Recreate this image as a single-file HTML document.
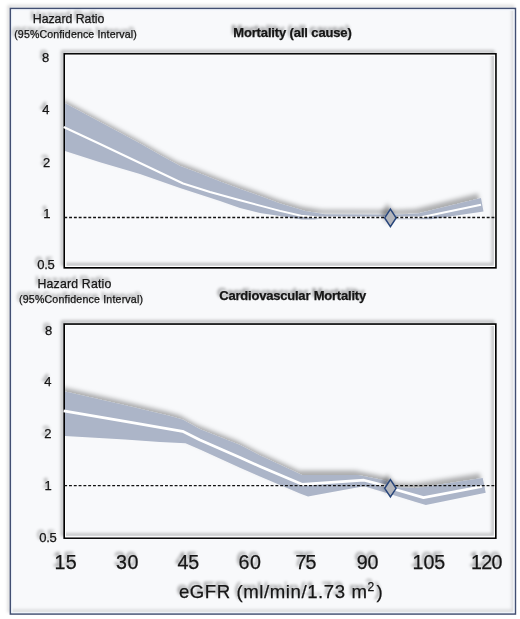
<!DOCTYPE html>
<html><head><meta charset="utf-8">
<style>
html,body{margin:0;padding:0;background:#ffffff;}
body{width:520px;height:619px;overflow:hidden;}
svg{display:block;}
text{font-family:"Liberation Sans",sans-serif;fill:#141414;stroke:#141414;stroke-width:0.25px;}
</style></head>
<body>
<svg width="520" height="619" viewBox="0 0 520 619">
<defs>
  <filter id="sh" x="-10%" y="-10%" width="120%" height="120%">
    <feDropShadow dx="-2.3" dy="-2.9" stdDeviation="1.4" flood-color="#000" flood-opacity="0.27"/>
  </filter>
  <filter id="bsh" x="-10%" y="-30%" width="120%" height="160%">
    <feDropShadow dx="-3" dy="-4.5" stdDeviation="2.3" flood-color="#000" flood-opacity="0.3"/>
  </filter>
  <filter id="dsh" x="-100%" y="-20%" width="300%" height="140%">
    <feDropShadow dx="-3" dy="-4.5" stdDeviation="2.3" flood-color="#000" flood-opacity="0.3"/>
  </filter>
  <filter id="tsh" x="-10%" y="-10%" width="120%" height="120%">
    <feDropShadow dx="-2" dy="-3" stdDeviation="1.8" flood-color="#000" flood-opacity="0.4"/>
  </filter>
  <filter id="fsh" x="-5%" y="-5%" width="110%" height="110%">
    <feDropShadow dx="-2" dy="-2.5" stdDeviation="1.6" flood-color="#000" flood-opacity="0.16"/>
  </filter>
  <clipPath id="clipb"><rect x="65.1" y="54.699999999999996" width="429.99999999999994" height="212.3"/><rect x="65.0" y="324.90000000000003" width="430.0" height="212.4"/></clipPath>
</defs>
<rect x="10.4" y="8.5" width="505.0" height="605.5" fill="#f8f9fb"/>
<g filter="url(#fsh)">
<rect x="10.4" y="8.5" width="505.0" height="605.5" fill="none" stroke="#435072" stroke-width="1.6"/>
<rect x="11.70" y="9.80" width="502.40" height="602.90" fill="none" stroke="#eef3fb" stroke-width="1.0"/>
</g>
<g filter="url(#sh)">
<rect x="64.3" y="53.9" width="431.59999999999997" height="213.9" fill="none" stroke="#000000" stroke-width="1.7"/>
<rect x="64.2" y="324.1" width="431.6" height="214.0" fill="none" stroke="#000000" stroke-width="1.7"/>
<rect x="65.60" y="55.20" width="429.00" height="211.30" fill="none" stroke="#ffffff" stroke-width="1.0"/>
<rect x="65.50" y="325.40" width="429.00" height="211.40" fill="none" stroke="#ffffff" stroke-width="1.0"/>
</g>
<g clip-path="url(#clipb)"><g filter="url(#bsh)">
<path d="M65,103.3 L100,122 L140,143.4 L160,155 L180,166 L200,173.5 L220,181.5 L240,189 L260,196 L280,203.5 L295,208 L305,211 L325,214.2 L385,214.5 L397,214.5 L418,213.5 L481,198 L483.5,211.5 L483.5,211.5 L431,219.2 L397,219.2 L385,218.2 L325,218.2 L314,219.5 L302,219.5 L280,216 L260,213 L240,208 L220,201 L180,188 L140,174 L100,162.3 L65,150.9 Z" fill="#acb5c8"/>
<path d="M65,391.4 L125,405.3 L170,416 L183,419.8 L200,429.3 L240,445 L260,455.5 L302,475 L358,475 L385,480.5 L397,487.3 L415,488 L424,487 L482.7,478 L485.7,492.7 L485.7,492.7 L425.8,505 L415,501.7 L385,492.6 L364,486.2 L320,494.3 L308,496.4 L300,493.5 L260,476.5 L240,467.7 L200,449.5 L185.5,443.3 L160,442 L125,439.4 L65,435.9 Z" fill="#acb5c8"/>
</g></g>
<polyline points="63.6,127 100,144 140,163 183.1,183.5 210,192 240,200.3 260,205.6 280,210.9 301,215.8 318,217.4 420,217.4 481,204.8" fill="none" stroke="#ffffff" stroke-width="2" stroke-linejoin="round"/>
<polyline points="63.6,410.9 125,421.4 182.6,431.3 200,440 240,457.5 260,466.5 302,484.3 364,480.2 385,485.6 397,490 423.5,497.6 482,486.5" fill="none" stroke="#ffffff" stroke-width="2.7" stroke-linejoin="round"/>
<line x1="64.3" y1="217.4" x2="495.9" y2="217.4" stroke="#111111" stroke-width="1.45" stroke-dasharray="2.9 1.9"/>
<line x1="64.2" y1="485.6" x2="495.8" y2="485.6" stroke="#111111" stroke-width="1.45" stroke-dasharray="2.9 1.9"/>
<g filter="url(#dsh)">
<path d="M390.4,209.20000000000002 L396.09999999999997,217.9 L390.4,226.6 L384.7,217.9 Z" fill="#b4b6bc" stroke="#28457a" stroke-width="1.5"/>
<path d="M390.4,479.6 L396.09999999999997,488.3 L390.4,497.0 L384.7,488.3 Z" fill="#b4b6bc" stroke="#28457a" stroke-width="1.5"/>
</g>
<g filter="url(#tsh)">
<text id="hr1" x="32.80" y="22.90" font-size="12.3" textLength="71.60" lengthAdjust="spacing">Hazard Ratio</text>
<text id="ci1" x="14.20" y="38.20" font-size="10.6" textLength="122.60" lengthAdjust="spacing">(95%Confidence Interval)</text>
<text id="tt1" x="233.20" y="36.90" font-size="13.0" font-weight="bold" textLength="118.60" lengthAdjust="spacing">Mortality (all cause)</text>
<text id="hr2" x="37.50" y="287.90" font-size="12.3" textLength="73.80" lengthAdjust="spacing">Hazard Ratio</text>
<text id="ci2" x="19.00" y="303.30" font-size="10.6" textLength="124.00" lengthAdjust="spacing">(95%Confidence Interval)</text>
<text id="tt2" x="219.20" y="300.30" font-size="13.0" font-weight="bold" textLength="147.00" lengthAdjust="spacing">Cardiovascular Mortality</text>
<text id="y8a" x="42.00" y="62.40" font-size="13.0">8</text>
<text id="y4a" x="42.30" y="114.30" font-size="13.0">4</text>
<text id="y2a" x="42.90" y="166.60" font-size="13.0">2</text>
<text id="y1a" x="43.30" y="218.00" font-size="13.0">1</text>
<text id="y05a" x="37.20" y="269.20" font-size="13.0" textLength="17.60" lengthAdjust="spacing">0.5</text>
<text id="y8b" x="44.90" y="334.70" font-size="13.0">8</text>
<text id="y4b" x="44.30" y="386.30" font-size="13.0">4</text>
<text id="y2b" x="44.30" y="438.20" font-size="13.0">2</text>
<text id="y1b" x="44.40" y="489.70" font-size="13.0">1</text>
<text id="y05b" x="39.20" y="541.60" font-size="13.0" textLength="17.60" lengthAdjust="spacing">0.5</text>
<text id="x15" x="54.60" y="568.50" font-size="19.7" textLength="22.00" lengthAdjust="spacing">15</text>
<text id="x30" x="116.10" y="568.50" font-size="19.7" textLength="22.40" lengthAdjust="spacing">30</text>
<text id="x45" x="177.50" y="568.50" font-size="19.7" textLength="21.60" lengthAdjust="spacing">45</text>
<text id="x60" x="238.50" y="568.50" font-size="19.7" textLength="22.40" lengthAdjust="spacing">60</text>
<text id="x75" x="295.40" y="568.50" font-size="19.7" textLength="21.00" lengthAdjust="spacing">75</text>
<text id="x90" x="356.70" y="568.50" font-size="19.7" textLength="21.80" lengthAdjust="spacing">90</text>
<text id="x105" x="412.60" y="568.50" font-size="19.7" textLength="32.60" lengthAdjust="spacing">105</text>
<text id="x120" x="471.00" y="568.50" font-size="19.7" textLength="31.40" lengthAdjust="spacing">120</text>
<text id="eg" x="178.90" y="597.70" font-size="18.6" textLength="188.00" lengthAdjust="spacing">eGFR (ml/min/1.73 m</text>
<text id="sup" x="367.40" y="590.70" font-size="12.1">2</text>
<text id="rp" x="376.50" y="597.70" font-size="18.6">)</text>
</g>
</svg>
</body></html>
